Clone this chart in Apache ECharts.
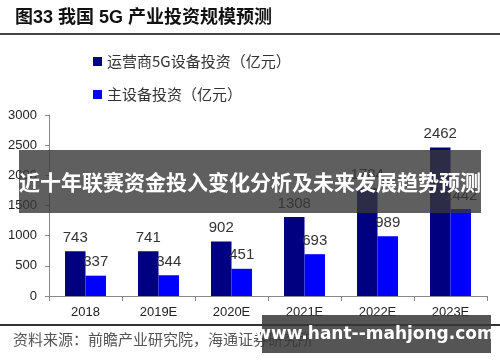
<!DOCTYPE html>
<html><head><meta charset="utf-8">
<script src="https://cdn.jsdelivr.net/npm/echarts@6/dist/echarts.min.js"></script>
<style>html,body{margin:0;padding:0;background:#fff}#c{width:500px;height:362px}</style>
</head><body><div id="c"></div>
<script>
const categories = ['2018','2019E','2020E','2021E','2022E','2023E'];
const operatorInvest = [743, 741, 902, 1308, 1784, 2462];
const mainEquipInvest = [337, 344, 451, 693, 989, 1442];
const seriesNames = ['运营商5G设备投资（亿元）', '主设备投资（亿元）'];
const titleText = '图33 我国 5G 产业投资规模预测';
const sourceText = '资料来源：前瞻产业研究院，海通证券研究所';
const bannerText = '近十年联赛资金投入变化分析及未来发展趋势预测';
const watermarkText = 'www.hant--mahjong.com';

const font = 'Arial, "Liberation Sans", "Noto Sans CJK SC", sans-serif';
const cjk = '"Noto Sans CJK SC", sans-serif';
const chart = echarts.init(document.getElementById('c'));
const labelStyle = {show: true, position: 'top', distance: 6, color: '#333', fontSize: 15, fontFamily: font};
chart.setOption({
  animation: false,
  textStyle: {fontFamily: font},
  grid: {left: 49, right: 13, top: 115, bottom: 66},
  legend: {
    orient: 'vertical', left: 88, top: 49, itemGap: 18,
    icon: 'rect', itemWidth: 9, itemHeight: 9,
    textStyle: {fontSize: 15, color: '#333', fontFamily: cjk},
    data: seriesNames
  },
  xAxis: {
    type: 'category', data: categories,
    axisLine: {lineStyle: {color: '#888', width: 1}},
    axisTick: {show: true, length: 5, lineStyle: {color: '#888'}},
    axisLabel: {color: '#222', fontSize: 13, margin: 10}
  },
  yAxis: {
    type: 'value', min: 0, max: 3000, interval: 500,
    axisLine: {show: true, lineStyle: {color: '#888', width: 1}},
    axisTick: {show: true, length: 4, lineStyle: {color: '#888'}},
    splitLine: {show: false},
    axisLabel: {color: '#222', fontSize: 13, margin: 12, formatter: v => String(v)}
  },
  series: [
    {name: seriesNames[0], type: 'bar', data: operatorInvest, barWidth: 20.5, barGap: '0%',
     itemStyle: {color: '#000080'}, label: labelStyle},
    {name: seriesNames[1], type: 'bar', data: mainEquipInvest, barWidth: 20.5,
     itemStyle: {color: '#0000FF'}, label: labelStyle}
  ],
  graphic: [
    {type: 'text', left: 15, top: 9, style: {text: titleText, fontSize: 18, fontWeight: 'bold', fontFamily: font, fill: '#111'}},
    {type: 'line', shape: {x1: 0, y1: 34, x2: 500, y2: 34}, style: {stroke: '#444', lineWidth: 2}},
    {type: 'line', shape: {x1: 0, y1: 325, x2: 500, y2: 325}, style: {stroke: '#333', lineWidth: 2}},
    {type: 'text', left: 13, top: 332, style: {text: sourceText, fontSize: 15, fontFamily: cjk, fill: '#555'}},
    {type: 'rect', shape: {x: 19, y: 150, width: 462, height: 63}, style: {fill: 'rgba(55,55,55,0.8)'}, z: 100},
    {type: 'text', x: 250, y: 182, style: {text: bannerText, fontSize: 21, fontWeight: 'bold', fontFamily: cjk, fill: '#fff', align: 'center', verticalAlign: 'middle'}, z: 101},
    {type: 'rect', shape: {x: 262, y: 315, width: 229, height: 38}, style: {fill: 'rgba(55,55,55,0.85)'}, z: 100},
    {type: 'text', x: 375, y: 335, style: {text: watermarkText, fontSize: 17, fontWeight: 'bold', fontFamily: '"DejaVu Sans", sans-serif', fill: '#fff', align: 'center', verticalAlign: 'middle'}, z: 101}
  ]
});
</script></body></html>
